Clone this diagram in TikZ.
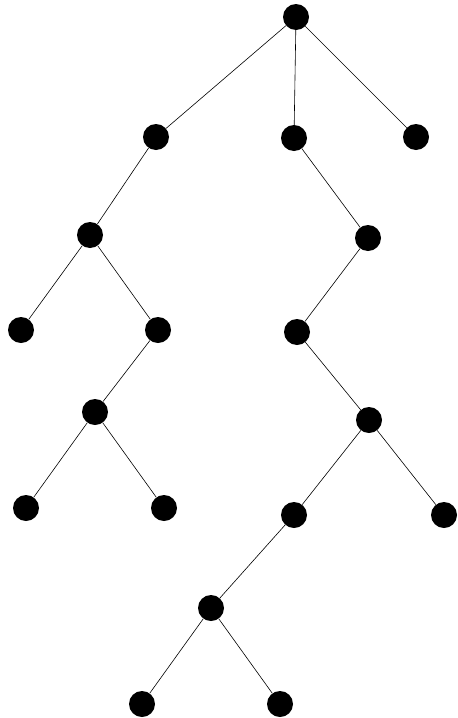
\documentclass[tikz,border=0pt]{standalone}
\begin{document}
\begin{tikzpicture}[x=1pt,y=-1pt,
  dot/.style={circle,fill=black,inner sep=0pt,minimum size=26pt},
  edge/.style={draw=black,line width=0.6pt}]
\useasboundingbox (0,0) rectangle (458,718);
\node[dot] (r) at (296,17) {};
\node[dot] (a) at (156,137) {};
\node[dot] (b) at (294,138) {};
\node[dot] (c) at (416,137) {};
\node[dot] (a1) at (90,235) {};
\node[dot] (b1) at (368,238) {};
\node[dot] (a1L) at (21,330) {};
\node[dot] (a1R) at (158,330) {};
\node[dot] (b2) at (297,332) {};
\node[dot] (a2) at (95,412) {};
\node[dot] (b3) at (369,420) {};
\node[dot] (a2L) at (26,508) {};
\node[dot] (a2R) at (164,508) {};
\node[dot] (b4) at (294,515) {};
\node[dot] (b3R) at (444,515) {};
\node[dot] (b5) at (211,608) {};
\node[dot] (b5L) at (142,704) {};
\node[dot] (b5R) at (280,704) {};
\draw[edge] (r)--(a); \draw[edge] (r)--(b); \draw[edge] (r)--(c);
\draw[edge] (a)--(a1); \draw[edge] (a1)--(a1L); \draw[edge] (a1)--(a1R);
\draw[edge] (a1R)--(a2); \draw[edge] (a2)--(a2L); \draw[edge] (a2)--(a2R);
\draw[edge] (b)--(b1); \draw[edge] (b1)--(b2); \draw[edge] (b2)--(b3);
\draw[edge] (b3)--(b4); \draw[edge] (b3)--(b3R); \draw[edge] (b4)--(b5);
\draw[edge] (b5)--(b5L); \draw[edge] (b5)--(b5R);
\end{tikzpicture}
\end{document}
